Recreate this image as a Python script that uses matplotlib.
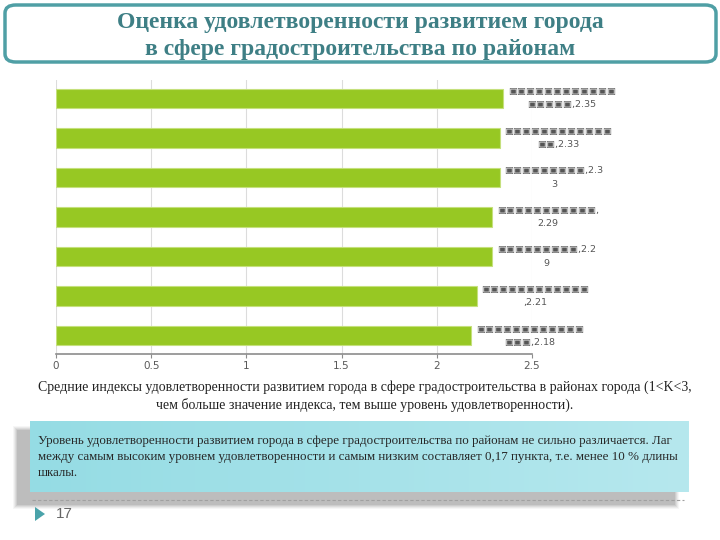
import numpy as np
import matplotlib
matplotlib.use('Agg')
import matplotlib.pyplot as plt
from matplotlib.patches import FancyBboxPatch, Rectangle, Polygon

# data (district names are not readable in the source, shown as boxes)
values = [2.35, 2.33, 2.33, 2.29, 2.29, 2.21, 2.18]
labels = ['▣▣▣▣▣▣▣▣▣▣▣▣\n▣▣▣▣▣,2.35',
          '▣▣▣▣▣▣▣▣▣▣▣▣\n▣▣,2.33',
          '▣▣▣▣▣▣▣▣▣,2.3\n3',
          '▣▣▣▣▣▣▣▣▣▣▣,\n2.29',
          '▣▣▣▣▣▣▣▣▣,2.2\n9',
          '▣▣▣▣▣▣▣▣▣▣▣▣\n,2.21',
          '▣▣▣▣▣▣▣▣▣▣▣▣\n▣▣▣,2.18']
xticks = [0, 0.5, 1, 1.5, 2, 2.5]
xticklabels = ['0', '0.5', '1', '1.5', '2', '2.5']

title = 'Оценка удовлетворенности развитием города\nв сфере градостроительства по районам'
caption = ('Средние индексы удовлетворенности развитием города в сфере градостроительства в районах города (1<K<3,\n'
           'чем больше значение индекса, тем выше уровень удовлетворенности).')
note = ('Уровень удовлетворенности развитием города в сфере градостроительства по районам не сильно различается. Лаг\n'
        'между самым высоким уровнем удовлетворенности и самым низким составляет 0,17 пункта, т.е. менее 10 % длины\n'
        'шкалы.')
page = '17'

W, H = 720, 540
fig = plt.figure(figsize=(7.2, 5.4), dpi=100)

def fx(x):
    return x / W

def fy(y):
    return 1 - y / H

serif = ['Liberation Serif', 'DejaVu Serif']

# title box
fig.patches.append(FancyBboxPatch((fx(5), fy(62)), fx(711), (62 - 5) / H,
                                  boxstyle='round,pad=0,rounding_size=0.015',
                                  transform=fig.transFigure, facecolor='white',
                                  edgecolor='#4f9fa5', linewidth=2.5))
fig.text(0.5, fy(36), title, ha='center', va='center', fontsize=17,
         fontweight='bold', color='#3e7f85', family=serif, linespacing=1.4)

# bar chart
ax = fig.add_axes([fx(56), fy(354), fx(532 - 56), (354 - 80) / H])
ypos = np.arange(len(values))
ax.barh(ypos, values, height=0.49, color='#97c823', edgecolor='#c5e07d', linewidth=0.8, zorder=3)
for y, v, lab in zip(ypos, values, labels):
    ax.text(v + 0.025, y, lab, ha='left', va='center', fontsize=6.8, color='#555555',
            multialignment='center', linespacing=1.6, zorder=4)
ax.set_xlim(0, 2.5)
ax.set_ylim(len(values) - 0.54, -0.46)
ax.set_xticks(xticks)
ax.set_xticklabels(xticklabels, fontsize=7.5, color='#595959')
ax.set_yticks([])
ax.grid(axis='x', color='#dcdcdc', linewidth=0.8, zorder=0)
for s in ['top', 'right', 'left']:
    ax.spines[s].set_visible(False)
ax.spines['bottom'].set_color('#8c8c8c')
ax.spines['bottom'].set_linewidth(1.2)
ax.tick_params(axis='x', length=3, color='#8c8c8c', pad=2)
ax.set_facecolor('none')

# caption
fig.text(fx(365), fy(396), caption, ha='center', va='center', fontsize=10,
         color='#222222', family=serif, linespacing=1.3)

# shadow behind note box
for i, a in enumerate([0.05, 0.07, 0.09, 0.11, 0.13]):
    d = 4 - i
    fig.patches.append(Rectangle((fx(17 - d), fy(505 + d)), fx(658 + 2 * d), (75 + 2 * d) / H,
                                 transform=fig.transFigure, facecolor='#555555',
                                 edgecolor='none', alpha=a, zorder=-1))

# note box with horizontal gradient
bax = fig.add_axes([fx(30), fy(492), fx(659), (492 - 421) / H], zorder=2)
grad = np.linspace(0, 1, 256).reshape(1, -1)
c0 = np.array([0x95, 0xdc, 0xe4]) / 255
c1 = np.array([0xb6, 0xe8, 0xee]) / 255
img = c0[None, None, :] * (1 - grad[..., None]) + c1[None, None, :] * grad[..., None]
bax.imshow(img, aspect='auto', extent=[0, 1, 0, 1])
bax.set_axis_off()
fig.text(fx(38), fy(457), note, ha='left', va='center', fontsize=9.4,
         color='#262626', family=serif, linespacing=1.4, zorder=3)

# dashed separator, page number
fig.add_artist(plt.Line2D([fx(32), fx(684)], [fy(500), fy(500)], transform=fig.transFigure,
                          color='#a0a0a0', linewidth=0.8, linestyle=(0, (3, 2)), zorder=3))
fig.patches.append(Polygon([[fx(35), fy(507)], [fx(35), fy(521)], [fx(45), fy(514)]],
                           closed=True, transform=fig.transFigure,
                           facecolor='#4aa3aa', edgecolor='none'))
fig.text(fx(56), fy(514), page, ha='left', va='center', fontsize=11,
         color='#666666', family=['Liberation Sans', 'DejaVu Sans'])

fig.savefig('out.png', dpi=100)
